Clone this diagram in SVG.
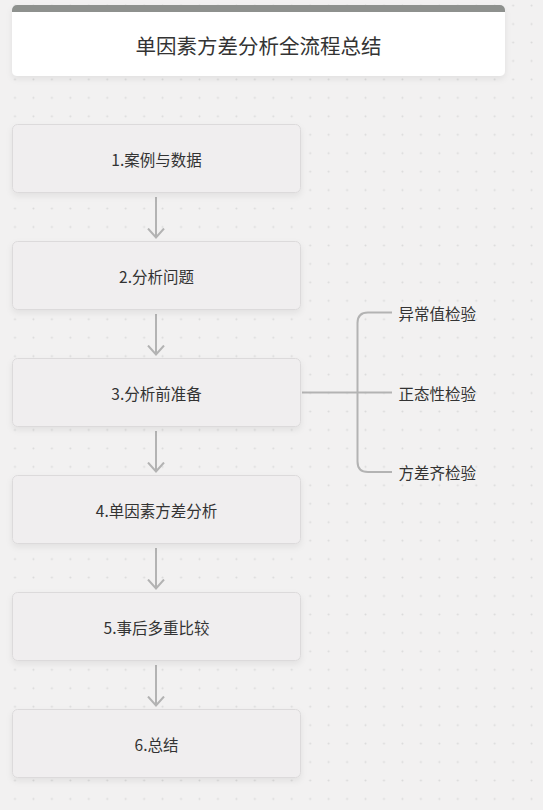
<svg xmlns="http://www.w3.org/2000/svg" width="543" height="810" viewBox="0 0 543 810">
<defs>
<pattern id="dots" patternUnits="userSpaceOnUse" x="5.775" y="-3.625" width="18.45" height="18.45">
<circle cx="9.225" cy="9.225" r="1" fill="#dadada"/>
</pattern>
<filter id="sh" x="-10%" y="-20%" width="120%" height="160%">
<feDropShadow dx="0" dy="3" stdDeviation="3" flood-color="#000" flood-opacity="0.07"/>
</filter>
<clipPath id="titleclip"><rect x="12" y="5" width="493" height="71" rx="5"/></clipPath>
<marker id="arr" markerUnits="userSpaceOnUse" markerWidth="12" markerHeight="20" refX="10" refY="9" orient="auto" viewBox="0 0 12 20">
<path d="M1,1 L10,9 L1,17" fill="none" stroke="#b3b3b3" stroke-width="2"/>
</marker>
</defs>
<style>
.node rect{fill:#f0eeef;stroke:#dcdadb;stroke-width:1;filter:url(#sh)}
.lbl{font-family:"Noto Sans CJK SC","Noto Sans",sans-serif;font-size:15.5px;fill:#333;text-anchor:middle;dominant-baseline:central}
.leaf{font-family:"Noto Sans CJK SC","Noto Sans",sans-serif;font-size:15.5px;fill:#333;dominant-baseline:central}
.conn{fill:none;stroke:#b3b3b3;stroke-width:2}
</style>
<rect width="543" height="810" fill="#f2f1f1"/>
<rect width="543" height="810" fill="url(#dots)"/>

<g id="title">
<rect x="12" y="5" width="493" height="71" rx="5" fill="#ffffff" filter="url(#sh)"/>
<rect x="12" y="5" width="493" height="7" fill="#8e918e" clip-path="url(#titleclip)"/>
<text x="258.5" y="45" font-family="Noto Sans CJK SC, Noto Sans, sans-serif" font-size="20.5" fill="#333" text-anchor="middle" dominant-baseline="central">单因素方差分析全流程总结</text>
</g>

<g id="connectors">
<path class="conn" d="M156,197 V237.5" marker-end="url(#arr)"/>
<path class="conn" d="M156,314 V354.5" marker-end="url(#arr)"/>
<path class="conn" d="M156,431 V471.5" marker-end="url(#arr)"/>
<path class="conn" d="M156,548 V588.5" marker-end="url(#arr)"/>
<path class="conn" d="M156,665 V705.5" marker-end="url(#arr)"/>
<path class="conn" d="M302,392.5 H392"/>
<path class="conn" d="M392,312.5 H368 Q357.5,312.5 357.5,323 V461.5 Q357.5,472 368,472 H392"/>
</g>

<g id="n1" class="node"><rect x="12.5" y="124.5" width="288" height="68" rx="5"/><text class="lbl" x="156.5" y="158.5">1.案例与数据</text></g>
<g id="n2" class="node"><rect x="12.5" y="241.5" width="288" height="68" rx="5"/><text class="lbl" x="156.5" y="275.5">2.分析问题</text></g>
<g id="n3" class="node"><rect x="12.5" y="358.5" width="288" height="68" rx="5"/><text class="lbl" x="156.5" y="392.5">3.分析前准备</text></g>
<g id="n4" class="node"><rect x="12.5" y="475.5" width="288" height="68" rx="5"/><text class="lbl" x="156.5" y="509.5">4.单因素方差分析</text></g>
<g id="n5" class="node"><rect x="12.5" y="592.5" width="288" height="68" rx="5"/><text class="lbl" x="156.5" y="626.5">5.事后多重比较</text></g>
<g id="n6" class="node"><rect x="12.5" y="709.5" width="288" height="68" rx="5"/><text class="lbl" x="156.5" y="743.5">6.总结</text></g>

<g id="leaf1"><text class="leaf" x="398.5" y="312.5">异常值检验</text></g>
<g id="leaf2"><text class="leaf" x="398.5" y="392.5">正态性检验</text></g>
<g id="leaf3"><text class="leaf" x="398.5" y="472">方差齐检验</text></g>
</svg>
